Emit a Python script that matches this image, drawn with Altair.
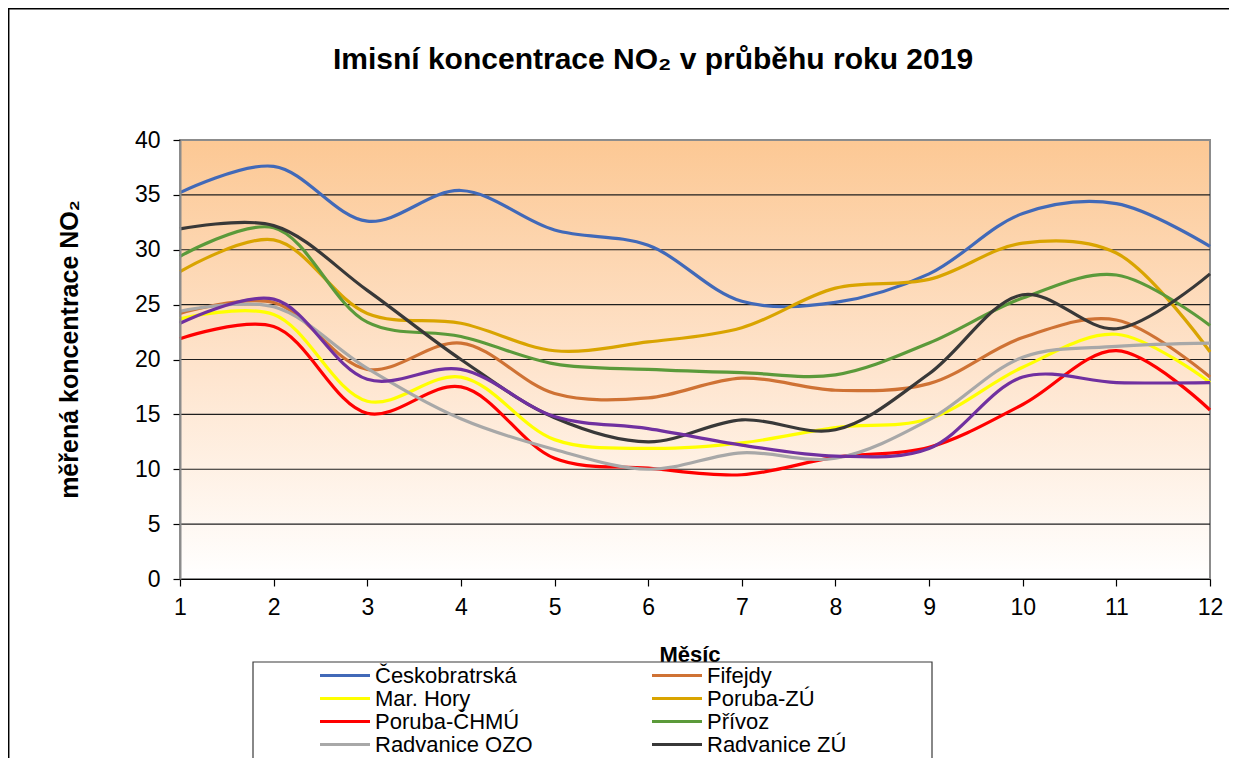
import altair as alt
import pandas as pd

months = list(range(1, 13))
stations = ["Českobratrská", "Fifejdy", "Mar. Hory", "Poruba-ZÚ", "Poruba-ČHMÚ",
            "Přívoz", "Radvanice OZO", "Radvanice ZÚ", "Zábřeh"]
legend_stations = stations[:8]

ceskobratrska = [35.2, 37.6, 32.6, 35.4, 31.8, 30.4, 25.3, 25.2, 27.8, 33.3, 34.2, 30.3]
fifejdy       = [24.2, 25.2, 19.1, 21.5, 16.9, 16.5, 18.3, 17.2, 17.8, 22.0, 23.6, 18.4]
mar_hory      = [23.7, 24.1, 16.2, 18.4, 12.7, 11.9, 12.4, 13.8, 14.6, 19.3, 22.3, 17.9]
poruba_zu     = [28.0, 30.9, 24.2, 23.3, 20.8, 21.6, 22.9, 26.5, 27.3, 30.6, 29.7, 20.7]
poruba_chmu   = [21.9, 23.0, 15.1, 17.5, 11.0, 10.1, 9.5, 11.1, 12.0, 15.9, 20.8, 15.4]
privoz        = [29.4, 32.0, 23.4, 22.1, 19.6, 19.1, 18.8, 18.6, 21.5, 25.6, 27.7, 23.1]
radvanice_ozo = [24.4, 24.8, 19.2, 14.6, 11.8, 10.0, 11.5, 11.0, 14.5, 20.2, 21.2, 21.5]
radvanice_zu  = [31.9, 32.2, 26.3, 20.0, 14.7, 12.5, 14.5, 13.6, 18.7, 25.9, 22.8, 27.8]
zabreh        = [23.3, 25.5, 18.2, 19.1, 14.8, 13.7, 12.2, 11.2, 11.9, 18.4, 17.9, 17.9]

series = [ceskobratrska, fifejdy, mar_hory, poruba_zu, poruba_chmu,
          privoz, radvanice_ozo, radvanice_zu, zabreh]
colors = ["#4169B8", "#CF7234", "#FFFF00", "#D9A400", "#FF0000",
          "#5B9A3A", "#A8A8A8", "#383838", "#7030A0"]

y_ticks = [0, 5, 10, 15, 20, 25, 30, 35, 40]
grid_values = [5, 10, 15, 20, 25, 30, 35]

rows = []
for i, (name, vals) in enumerate(zip(stations, series)):
    for m, v in zip(months, vals):
        rows.append({"station": name, "month": m, "value": v, "idx": i})
df = pd.DataFrame(rows)

W, H = 1030, 439
FONT = "Liberation Sans"

xscale = alt.Scale(domain=[1, 12], nice=False, zero=False)
yscale = alt.Scale(domain=[0, 40], nice=False)

x_axis = alt.Axis(values=months, format="d", grid=False, title=None,
                  domainColor="#000000", domainWidth=1.2,
                  tickColor="#000000", tickSize=7, tickWidth=1.2,
                  labelFont=FONT, labelFontSize=23, labelColor="#000000",
                  labelPadding=10, labelFlush=False, zindex=1)
y_axis = alt.Axis(values=y_ticks, grid=False,
                  title="měřená koncentrace NO₂",
                  titleFont=FONT, titleFontSize=25, titleFontWeight="bold",
                  titleColor="#000000", titleAngle=270,
                  titleX=-111, titleY=209, titleAlign="center",
                  titleBaseline="middle",
                  domainColor="#8C8C8C", domainWidth=2,
                  tickColor="#000000", tickSize=7, tickWidth=1.2,
                  labelFont=FONT, labelFontSize=23, labelColor="#000000",
                  labelPadding=13, zindex=1)

one = pd.DataFrame({"a": [0]})

gradient = alt.Gradient(
    gradient="linear",
    stops=[alt.GradientStop(color="#FCC894", offset=0),
           alt.GradientStop(color="#FEE3CB", offset=0.5),
           alt.GradientStop(color="#FFFFFF", offset=1)],
    x1=0, x2=0, y1=0, y2=1,
)

bg = alt.Chart(one).mark_rect(fill=gradient, stroke="#8C8C8C", strokeWidth=2).encode(
    x=alt.value(0), x2=alt.value(W), y=alt.value(0), y2=alt.value(H)
)

grid = alt.Chart(pd.DataFrame({"g": grid_values})).mark_rule(
    color="#1E1E1E", strokeWidth=1.2
).encode(y=alt.Y("g:Q", scale=yscale, axis=y_axis))

lines = alt.Chart(df).mark_line(interpolate="catmull-rom", strokeWidth=3.2).encode(
    x=alt.X("month:Q", scale=xscale, axis=x_axis),
    y=alt.Y("value:Q", scale=yscale, axis=y_axis),
    color=alt.Color("station:N",
                    scale=alt.Scale(domain=stations, range=colors),
                    legend=alt.Legend(orient="none", legendX=138, legendY=524,
                                      columns=2, direction="horizontal",
                                      columnPadding=117,
                                      symbolType="stroke", symbolSize=2500,
                                      symbolStrokeWidth=3.2, clipHeight=23,
                                      rowPadding=0, padding=0,
                                      labelFont=FONT, labelFontSize=22,
                                      labelColor="#000000", labelOffset=3,
                                      labelLimit=400, title=None,
                                      values=legend_stations)),
    order=alt.Order("idx:Q"),
    detail="station:N",
)

title_text = alt.Chart(one).mark_text(
    text="Imisní koncentrace NO₂ v průběhu roku 2019", font=FONT, fontSize=30,
    fontWeight="bold", color="#000000", align="center", baseline="alphabetic"
).encode(x=alt.value(473), y=alt.value(-71))

xtitle = alt.Chart(one).mark_text(
    text="Měsíc", font=FONT, fontSize=22, fontWeight="bold", color="#000000",
    align="center", baseline="alphabetic"
).encode(x=alt.value(510), y=alt.value(522))

legend_box = alt.Chart(one).mark_rect(
    fill="#FFFFFF", stroke="#3A3A3A", strokeWidth=1.2
).encode(x=alt.value(73), x2=alt.value(752), y=alt.value(522), y2=alt.value(700))

frame_left = alt.Chart(one).mark_rule(color="#000000", strokeWidth=1.5).encode(
    x=alt.value(-171.3), y=alt.value(-132), y2=alt.value(700)
)
frame_top = alt.Chart(one).mark_rule(color="#000000", strokeWidth=1.5).encode(
    y=alt.value(-131.3), x=alt.value(-172), x2=alt.value(W + 100)
)

chart = alt.layer(bg, grid, lines, title_text, xtitle, legend_box,
                  frame_left, frame_top).properties(
    width=W, height=H,
    autosize=alt.AutoSizeParams(type="none"),
    padding={"left": 172, "top": 132, "right": 19, "bottom": 179},
).configure_view(stroke=None).configure(background="#FFFFFF")

chart.save("out.html", embed_options={"renderer": "svg", "actions": False})
